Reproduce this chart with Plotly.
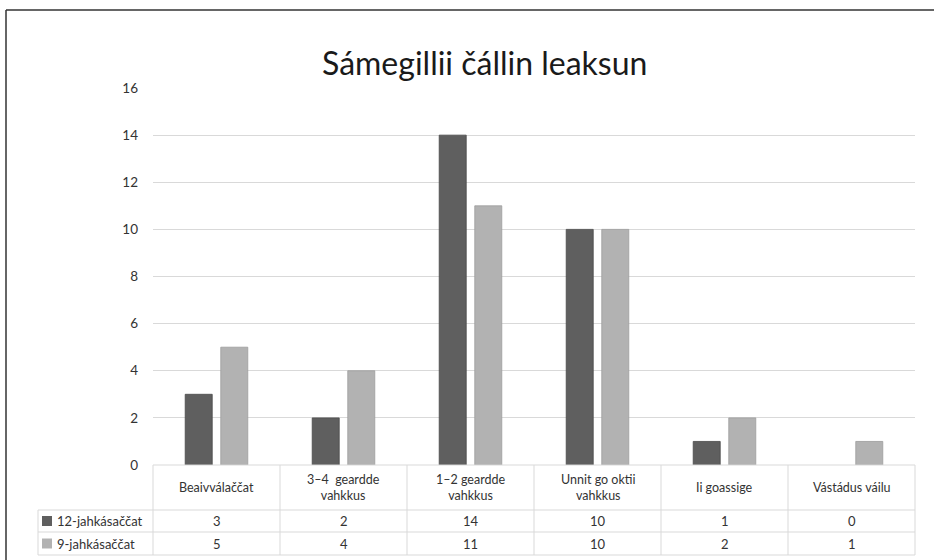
import plotly.graph_objects as go

categories = ["Beaivválaččat", "3–4  geardde<br>vahkkus", "1–2 geardde<br>vahkkus",
              "Unnit go oktii<br>vahkkus", "Ii goassige", "Vástádus váilu"]
series_names = ["12-jahkásaččat", "9-jahkásaččat"]
values_12 = [3, 2, 14, 10, 1, 0]
values_9 = [5, 4, 11, 10, 2, 1]
title_text = "Sámegillii čállin leaksun"

colors = ["#5f5f5f", "#b2b2b2"]
edges = ["#4a4a4a", "#9c9c9c"]
FONT = "Lato, Carlito, Calibri, sans-serif"
W, H = 934, 560
L, R, T, B = 153, 915, 88, 465


def xp(px):
    return (px - L) / (R - L)


def yp(py):
    return (B - py) / (B - T)


fig = go.Figure()
for name, vals, c, e in zip(series_names, [values_12, values_9], colors, edges):
    fig.add_trace(go.Bar(x=list(range(len(categories))), y=vals, name=name,
                         marker=dict(color=c,
                                     line=dict(color=e, width=[0.8 if v else 0 for v in vals])),
                         showlegend=False, hoverinfo="skip"))

shapes = []
anns = []
grid = "#d9d9d9"
txt = "#333333"
n = len(categories)
colw = (R - L) / n
row_tops = [465, 510, 532, 555]
for i in range(n + 1):
    x = L + i * colw
    shapes.append(dict(type="line", xref="paper", yref="paper", x0=xp(x), x1=xp(x),
                       y0=yp(465), y1=yp(555), line=dict(color=grid, width=1)))
shapes.append(dict(type="line", xref="paper", yref="paper", x0=xp(38), x1=xp(38),
                   y0=yp(510), y1=yp(555), line=dict(color=grid, width=1)))
shapes.append(dict(type="line", xref="paper", yref="paper", x0=xp(L), x1=xp(R),
                   y0=yp(465), y1=yp(465), line=dict(color=grid, width=1)))
for py in [510, 532, 555]:
    shapes.append(dict(type="line", xref="paper", yref="paper", x0=xp(38), x1=xp(R),
                       y0=yp(py), y1=yp(py), line=dict(color=grid, width=1)))
# outer border
shapes.append(dict(type="line", xref="paper", yref="paper", x0=xp(6), x1=xp(940),
                   y0=yp(10), y1=yp(10), line=dict(color="#333333", width=1.5)))
shapes.append(dict(type="line", xref="paper", yref="paper", x0=xp(6), x1=xp(6),
                   y0=yp(10), y1=yp(565), line=dict(color="#333333", width=1.5)))

for i, cat in enumerate(categories):
    anns.append(dict(x=xp(L + (i + 0.5) * colw), y=yp(487.5), xref="paper", yref="paper",
                     text=cat, showarrow=False, font=dict(family=FONT, size=12.5, color=txt),
                     xanchor="center", yanchor="middle"))
for r, (name, vals, c) in enumerate(zip(series_names, [values_12, values_9], colors)):
    ymid = (row_tops[r + 1] + row_tops[r + 2]) / 2
    shapes.append(dict(type="rect", xref="paper", yref="paper", x0=xp(42), x1=xp(52),
                       y0=yp(ymid - 5), y1=yp(ymid + 5), fillcolor=c, line=dict(width=0)))
    anns.append(dict(x=xp(55), y=yp(ymid), xref="paper", yref="paper", text=name,
                     showarrow=False, xanchor="left", yanchor="middle",
                     font=dict(family=FONT, size=13, color=txt)))
    for i, v in enumerate(vals):
        anns.append(dict(x=xp(L + (i + 0.5) * colw), y=yp(ymid), xref="paper", yref="paper",
                         text=str(v), showarrow=False, xanchor="center", yanchor="middle",
                         font=dict(family=FONT, size=13, color=txt)))
anns.append(dict(x=xp(484), y=yp(62), xref="paper", yref="paper", text=title_text,
                 showarrow=False, xanchor="center", yanchor="middle",
                 font=dict(family=FONT, size=32, color="#1a1a1a")))

fig.update_layout(
    width=W, height=H,
    margin=dict(l=L, r=W - R, t=T, b=H - B, pad=0),
    paper_bgcolor="white", plot_bgcolor="white",
    barmode="group", bargap=0.44, bargroupgap=0.24,
    shapes=shapes, annotations=anns,
    xaxis=dict(range=[-0.5, n - 0.5], showticklabels=False, showgrid=False,
               zeroline=False, showline=False, ticks=""),
    yaxis=dict(range=[0, 16], dtick=2, showgrid=True, gridcolor=grid, gridwidth=1,
               zeroline=False, showline=False, ticks="", ticklabelstandoff=14,
               tickfont=dict(family=FONT, size=13.5, color=txt)),
    font=dict(family=FONT),
)

fig.write_html("out.html", config={"displayModeBar": False},
               post_script="document.body.style.margin='0';document.body.style.padding='0';")
